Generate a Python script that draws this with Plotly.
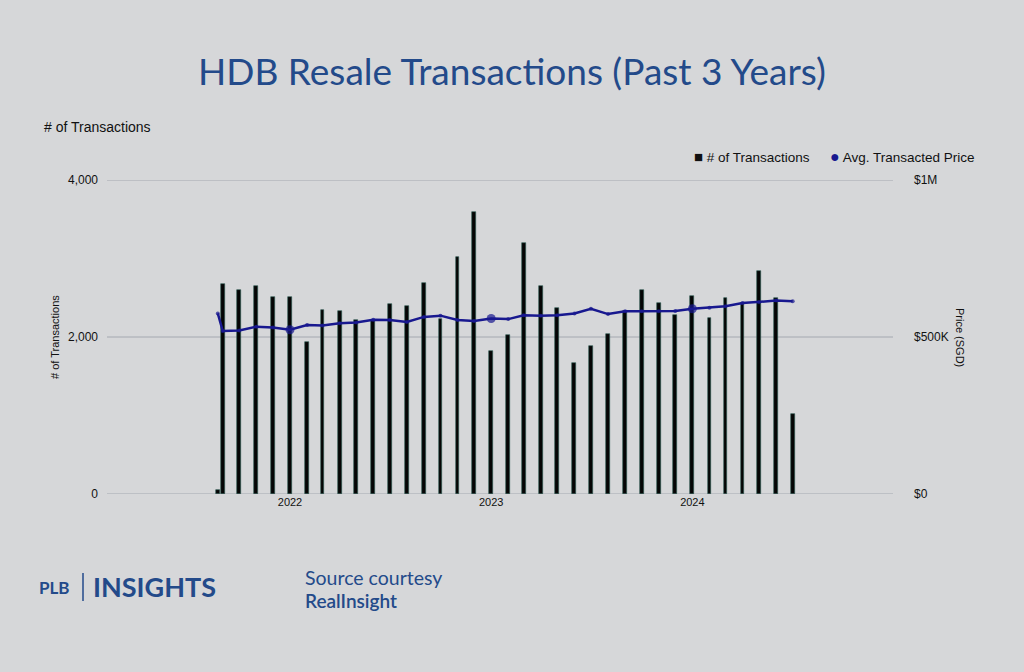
import plotly.graph_objects as go

# ---- data ----
dates = ["2021-08-23", "2021-09-01", "2021-10-01", "2021-11-01", "2021-12-01",
         "2022-01-01", "2022-02-01", "2022-03-01", "2022-04-01", "2022-05-01", "2022-06-01",
         "2022-07-01", "2022-08-01", "2022-09-01", "2022-10-01", "2022-11-01", "2022-12-01",
         "2023-01-01", "2023-02-01", "2023-03-01", "2023-04-01", "2023-05-01", "2023-06-01",
         "2023-07-01", "2023-08-01", "2023-09-01", "2023-10-01", "2023-11-01", "2023-12-01",
         "2024-01-01", "2024-02-01", "2024-03-01", "2024-04-01", "2024-05-01", "2024-06-01",
         "2024-07-01"]
transactions = [50, 2675, 2600, 2655, 2510, 2505, 1940, 2350, 2335, 2220, 2220,
                2425, 2390, 2685, 2230, 3020, 3595, 1825, 2020, 3195, 2655, 2375,
                1675, 1885, 2040, 2335, 2595, 2430, 2285, 2520, 2245, 2495, 2435,
                2845, 2500, 1025]
avg_price = [575000, 519000, 521000, 533000, 530000, 523000, 538000, 537000, 544000,
             546000, 555000, 554000, 548000, 564000, 568000, 554000, 551000, 559000,
             557000, 569000, 568000, 569000, 575000, 590000, 573000, 582000, 582000,
             582000, 583000, 590000, 593000, 598000, 608000, 611000, 616000, 614000]
big_marker_dates = ["2022-01-01", "2023-01-01", "2024-01-01"]

left_ticks = [0, 2000, 4000]
right_ticks = [0, 500000, 1000000]
right_tick_text = ["$0", "$500K", "$1M"]
year_ticks = ["2022-01-01", "2023-01-01", "2024-01-01"]
year_labels = ["2022", "2023", "2024"]

BG = "#d6d7d9"
NAVY = "#18188f"
BLUE = "#234a8a"
GRID = "#a4a8b0"
DAY_MS = 86400000

marker_sizes = [9 if d in big_marker_dates else 4 for d in dates]

fig = go.Figure()
fig.add_trace(go.Bar(
    x=dates, y=transactions, width=[7 * DAY_MS] * len(dates),
    marker=dict(color="#050505", line=dict(color="#2a5a52", width=0.6)),
    name="# of Transactions", showlegend=False, yaxis="y"))
fig.add_trace(go.Scatter(
    x=dates, y=avg_price, mode="lines+markers",
    line=dict(color=NAVY, width=2.5),
    marker=dict(color=NAVY, size=marker_sizes, line=dict(width=0)),
    name="Avg. Transacted Price", showlegend=False, yaxis="y2"))

fig.update_layout(
    width=1024, height=672,
    paper_bgcolor=BG, plot_bgcolor=BG,
    margin=dict(l=107, r=131, t=180, b=178),
    font=dict(family="Liberation Sans, Arial, sans-serif", color="#111111", size=11),
    title=dict(text="HDB Resale Transactions (Past 3 Years)", x=0.5, xanchor="center",
               y=1 - 72 / 672, yanchor="middle",
               font=dict(family="Lato, sans-serif", size=37, color=BLUE)),
    bargap=0,
    showlegend=False,
    xaxis=dict(type="date", range=["2021-02-03", "2024-12-30"],
               tickvals=year_ticks, ticktext=year_labels, showgrid=False,
               zeroline=False, showline=False, ticks="", tickfont=dict(size=11)),
    yaxis=dict(range=[0, 4000], tickvals=left_ticks, tickformat=",",
               showgrid=False, zeroline=False, ticks="", ticklabelstandoff=8,
               tickfont=dict(size=12)),
    yaxis2=dict(range=[0, 1000000], tickvals=right_ticks, ticktext=right_tick_text,
                overlaying="y", side="right", showgrid=False, zeroline=False,
                ticks="", ticklabelstandoff=20, tickfont=dict(size=12)),
)

# gridlines drawn at the left-axis tick values, below the data
for v in left_ticks:
    fig.add_shape(type="line", xref="paper", yref="y", x0=0, x1=1, y0=v, y1=v,
                  line=dict(color=GRID, width=1), layer="below")

legend_y = (494 - 156) / 314
annotations = [
    # legend
    dict(text="<span style='font-size:15px'>■</span> # of Transactions",
         xref="paper", yref="paper", x=1, xshift=812 - 893, xanchor="right",
         y=legend_y, yanchor="middle", showarrow=False,
         font=dict(size=13.5, color="#111111")),
    dict(text="<span style='font-size:16px;color:%s'>●</span> Avg. Transacted Price" % NAVY,
         xref="paper", yref="paper", x=1, xshift=977 - 893, xanchor="right",
         y=legend_y, yanchor="middle", showarrow=False,
         font=dict(size=13.5, color="#111111")),
    dict(text="# of Transactions", xref="paper", yref="paper", x=0, xshift=-65,
         xanchor="left", y=1 + (180 - 127) / 314, yanchor="middle", showarrow=False,
         font=dict(size=14, color="#111111")),
    dict(text="# of Transactions", xref="paper", yref="paper", x=0, xshift=-52,
         xanchor="center", y=0.5, yanchor="middle", textangle=-90, showarrow=False,
         font=dict(size=11, color="#111111")),
    dict(text="Price (SGD)", xref="paper", yref="paper", x=1, xshift=67,
         xanchor="center", y=0.5, yanchor="middle", textangle=90, showarrow=False,
         font=dict(size=11, color="#111111")),
    dict(text="<b>PLB</b>", xref="paper", yref="paper", x=0, xshift=-70, xanchor="left",
         y=-(587 - 494) / 314, yanchor="middle", showarrow=False,
         font=dict(family="Lato, sans-serif", size=17, color=BLUE)),
    dict(text="<b>INSIGHTS</b>", xref="paper", yref="paper", x=0, xshift=-16, xanchor="left",
         y=-(586 - 494) / 314, yanchor="middle", showarrow=False,
         font=dict(family="Lato, sans-serif", size=27, color=BLUE)),
    dict(text="Source courtesy", xref="paper", yref="paper", x=0, xshift=196, xanchor="left",
         y=-(577 - 494) / 314, yanchor="middle", showarrow=False,
         font=dict(family="Lato, sans-serif", size=19.5, color=BLUE)),
    dict(text="RealInsight", xref="paper", yref="paper", x=0, xshift=196, xanchor="left",
         y=-(600 - 494) / 314, yanchor="middle", showarrow=False,
         font=dict(family="Lato, sans-serif", size=19, color=BLUE, weight=600)),
]
fig.update_layout(annotations=annotations)
fig.add_shape(type="line", xref="paper", yref="paper",
              x0=-(107 - 83) / 786, x1=-(107 - 83) / 786,
              y0=-(573 - 494) / 314, y1=-(601 - 494) / 314,
              line=dict(color=BLUE, width=1.5))

fig.write_html("out.html")
